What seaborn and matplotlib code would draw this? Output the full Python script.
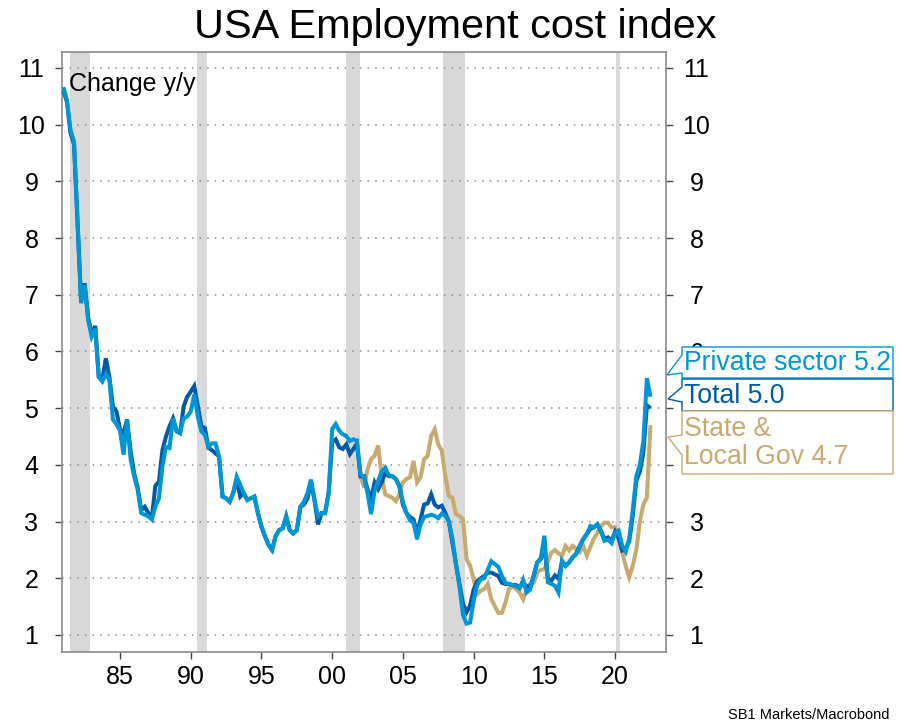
import matplotlib
matplotlib.use("Agg")
import numpy as np
import pandas as pd
import matplotlib.pyplot as plt
from matplotlib.patches import Polygon
import seaborn as sns

# Employment cost index, change y/y (%), quarterly
private_start = 1981.0
private_sector = [
    10.66, 10.43, 9.90, 9.70,   # 1981
    8.30, 6.85, 7.17, 6.55,     # 1982
    6.26, 6.40, 5.55, 5.47,     # 1983
    5.60, 5.50, 4.80, 4.72,     # 1984
    4.60, 4.18, 4.80, 4.10,     # 1985
    3.80, 3.56, 3.15, 3.12,     # 1986
    3.09, 3.04, 3.26, 3.41,     # 1987
    3.97, 4.32, 4.30, 4.82,     # 1988
    4.59, 4.56, 4.82, 4.85,     # 1989
    4.94, 5.24, 4.85, 4.59,     # 1990
    4.53, 4.32, 4.38, 4.38,     # 1991
    4.15, 3.44, 3.41, 3.35,     # 1992
    3.50, 3.79, 3.65, 3.50,     # 1993
    3.38, 3.41, 3.44, 3.15,     # 1994
    2.91, 2.74, 2.59, 2.50,     # 1995
    2.74, 2.85, 2.88, 3.09,     # 1996
    2.85, 2.79, 2.85, 3.26,     # 1997
    3.35, 3.50, 3.74, 3.38,     # 1998
    3.09, 3.15, 3.15, 3.50,     # 1999
    4.63, 4.72, 4.60, 4.54,     # 2000
    4.51, 4.42, 4.45, 4.42,     # 2001
    3.84, 3.78, 3.50, 3.13,     # 2002
    3.55, 3.72, 3.88, 3.95,     # 2003
    3.82, 3.80, 3.75, 3.62,     # 2004
    3.35, 3.15, 3.02, 2.98,     # 2005
    2.69, 2.95, 3.08, 3.10,     # 2006
    3.12, 3.10, 3.06, 3.14,     # 2007
    3.10, 3.00, 2.70, 2.25,     # 2008
    1.85, 1.35, 1.20, 1.22,     # 2009
    1.60, 1.88, 1.98, 2.00,     # 2010
    2.15, 2.30, 2.25, 2.20,     # 2011
    2.04, 1.92, 1.90, 1.88,     # 2012
    1.86, 1.82, 1.97, 1.75,     # 2013
    1.80, 2.05, 2.28, 2.36,     # 2014
    2.75, 1.93, 1.90, 1.87,     # 2015
    1.75, 2.31, 2.22, 2.28,     # 2016
    2.37, 2.43, 2.57, 2.69,     # 2017
    2.78, 2.92, 2.90, 2.95,     # 2018
    2.82, 2.66, 2.68, 2.62,     # 2019
    2.80, 2.84, 2.58, 2.47,     # 2020
    2.70, 3.20, 3.80, 4.00,     # 2021
    4.42, 5.53, 5.20,           # 2022
]

total = [
    10.60, 10.40, 9.85, 9.65,   # 1981
    8.25, 6.90, 7.20, 6.60,     # 1982
    6.30, 6.45, 5.55, 5.50,     # 1983
    5.88, 5.55, 5.03, 4.94,     # 1984
    4.63, 4.55, 4.80, 4.24,     # 1985
    3.85, 3.60, 3.20, 3.26,     # 1986
    3.15, 3.06, 3.63, 3.70,     # 1987
    4.26, 4.50, 4.68, 4.82,     # 1988
    4.60, 4.56, 5.03, 5.20,     # 1989
    5.29, 5.39, 5.03, 4.68,     # 1990
    4.65, 4.30, 4.26, 4.20,     # 1991
    4.15, 3.44, 3.41, 3.35,     # 1992
    3.50, 3.74, 3.44, 3.50,     # 1993
    3.38, 3.41, 3.44, 3.15,     # 1994
    2.91, 2.74, 2.59, 2.50,     # 1995
    2.74, 2.85, 2.88, 3.09,     # 1996
    2.85, 2.79, 2.85, 3.26,     # 1997
    3.30, 3.40, 3.70, 3.38,     # 1998
    2.95, 3.15, 3.15, 3.50,     # 1999
    4.40, 4.45, 4.31, 4.28,     # 2000
    4.36, 4.19, 4.28, 4.38,     # 2001
    3.80, 3.80, 3.57, 3.40,     # 2002
    3.69, 3.57, 3.69, 3.86,     # 2003
    3.80, 3.80, 3.75, 3.63,     # 2004
    3.30, 3.15, 3.08, 3.04,     # 2005
    2.80, 3.04, 3.30, 3.32,     # 2006
    3.48, 3.30, 3.25, 3.28,     # 2007
    3.15, 3.00, 2.62, 2.25,     # 2008
    1.90, 1.55, 1.40, 1.52,     # 2009
    1.80, 1.95, 2.00, 2.04,     # 2010
    2.10, 2.10, 2.07, 2.04,     # 2011
    1.92, 1.90, 1.90, 1.88,     # 2012
    1.88, 1.84, 1.92, 1.86,     # 2013
    1.85, 2.05, 2.28, 2.34,     # 2014
    2.57, 1.99, 1.96, 2.05,     # 2015
    1.99, 2.30, 2.22, 2.28,     # 2016
    2.37, 2.43, 2.57, 2.69,     # 2017
    2.78, 2.87, 2.90, 2.95,     # 2018
    2.84, 2.69, 2.72, 2.66,     # 2019
    2.82, 2.70, 2.49, 2.52,     # 2020
    2.65, 3.10, 3.72, 3.88,     # 2021
    4.22, 5.05, 5.00,           # 2022
]

state_local_start = 2002.0
state_local_gov = [
    3.81, 3.60, 3.92, 4.10,     # 2002
    4.16, 4.34, 3.80, 3.48,     # 2003
    3.45, 3.42, 3.36, 3.48,     # 2004
    3.69, 3.75, 3.78, 4.07,     # 2005
    3.69, 3.78, 4.10, 4.16,     # 2006
    4.51, 4.63, 4.36, 4.25,     # 2007
    3.80, 3.45, 3.42, 3.13,     # 2008
    3.10, 3.04, 2.34, 2.22,     # 2009
    1.98, 1.72, 1.78, 1.81,     # 2010
    1.90, 1.63, 1.51, 1.39,     # 2011
    1.39, 1.57, 1.81, 1.86,     # 2012
    1.81, 1.75, 1.63, 1.81,     # 2013
    1.90, 1.92, 2.10, 2.15,     # 2014
    2.16, 2.30, 2.45, 2.50,     # 2015
    2.44, 2.40, 2.57, 2.49,     # 2016
    2.57, 2.51, 2.46, 2.57,     # 2017
    2.40, 2.55, 2.70, 2.80,     # 2018
    2.92, 2.98, 2.98, 2.90,     # 2019
    2.90, 2.75, 2.46, 2.22,     # 2020
    2.02, 2.22, 2.50, 3.00,     # 2021
    3.30, 3.42, 4.70,           # 2022
]

# US recessions (shaded)
recessions = [(1981.47, 1982.9), (1990.47, 1991.17), (2001.0, 2001.95),
              (2007.85, 2009.42), (2020.08, 2020.32)]

x_ticks = [1985, 1990, 1995, 2000, 2005, 2010, 2015, 2020]
x_tick_labels = ["85", "90", "95", "00", "05", "10", "15", "20"]
y_ticks = list(range(1, 12))

series_names = ["State & Local Gov", "Total", "Private sector"]
series_colors = {"Private sector": "#0096d6",
                 "Total": "#005aa7",
                 "State & Local Gov": "#c8a96e"}

sns.set_style("white")
plt.rcParams["font.family"] = ["Liberation Sans", "DejaVu Sans"]
plt.rcParams["text.color"] = "black"
plt.rcParams["xtick.color"] = "black"
plt.rcParams["ytick.color"] = "black"
plt.rcParams["axes.labelcolor"] = "black"


def quarterly(values, start, name):
    dates = start + np.arange(len(values)) / 4.0
    return pd.DataFrame({"date": dates, "value": values, "series": name})


df = pd.concat([
    quarterly(private_sector, private_start, "Private sector"),
    quarterly(total, private_start, "Total"),
    quarterly(state_local_gov, state_local_start, "State & Local Gov"),
], ignore_index=True)

W, H = 902, 722
fig = plt.figure(figsize=(W / 100, H / 100), dpi=100)
ax = fig.add_axes([62 / W, 1 - 652 / H, 604 / W, 600 / H])

for a, b in recessions:
    ax.axvspan(a, b, color="#d9d9d9", lw=0, zorder=0)
for y in y_ticks:
    ax.axhline(y, color="#8a8a8a", lw=1.1, ls=(0, (1, 4)), zorder=1)

sns.lineplot(data=df, x="date", y="value", hue="series",
             hue_order=series_names, palette=series_colors,
             estimator=None, legend=False, ax=ax, lw=2.9,
             solid_joinstyle="miter", solid_capstyle="butt", zorder=3)

ax.set_xlim(1980.9, 2023.6)
ax.set_ylim(0.70, 11.28)
ax.set_xticks(x_ticks)
ax.set_xticklabels(x_tick_labels)
ax.set_yticks(y_ticks)
ax.set_xlabel("")
ax.set_ylabel("")

ax.tick_params(axis="y", left=True, right=True, labelleft=True, labelright=True,
               direction="out", length=5, width=1, color="#444444",
               labelcolor="black", labelsize=18, pad=17)
ax.tick_params(axis="x", bottom=True, direction="out", length=5, width=1,
               color="#444444", labelcolor="black", labelsize=18, pad=4)
for t in ax.yaxis.get_major_ticks():
    t.label1.set_horizontalalignment("center")
    t.label2.set_horizontalalignment("center")
for spine in ax.spines.values():
    spine.set_color("#8a8a8a")
    spine.set_linewidth(1.2)

ax.text(0.011, 0.967, "Change y/y", transform=ax.transAxes,
        ha="left", va="top", fontsize=18, color="black")

fig.text(455 / W, 1 - 38 / H, "USA Employment cost index",
         ha="center", va="baseline", fontsize=29.8, color="black")
fig.text(890 / W, 1 - 719 / H, "SB1 Markets/Macrobond",
         ha="right", va="baseline", fontsize=10.5, color="black")


def px(x, y):
    return (x / W, 1 - y / H)


# Callout labels at the end of each line
box_left, box_right = 682, 893
callouts = [
    (f"Private sector {private_sector[-1]:.1f}", series_colors["Private sector"],
     347, 378, (667, 375), 355, 373),
    (f"Total {total[-1]:.1f}", series_colors["Total"],
     379, 411, (668, 399), 387, 402),
    (f"State &\nLocal Gov {state_local_gov[-1]:.1f}", series_colors["State & Local Gov"],
     411, 474, (668, 437), 435, 455),
]
for text, color, top, bottom, tip, att_up, att_low in callouts:
    pts = [px(*tip), px(box_left, att_up), px(box_left, top), px(box_right, top),
           px(box_right, bottom), px(box_left, bottom), px(box_left, att_low)]
    poly = Polygon(pts, closed=True, transform=fig.transFigure,
                   facecolor="white", edgecolor=color, lw=1.0, zorder=5)
    fig.add_artist(poly)
    fig.text((box_left + 2) / W, 1 - ((top + bottom) / 2 + 1) / H, text,
             color=color, fontsize=19.2, ha="left", va="center",
             linespacing=1.1, zorder=6)

fig.savefig("out.png", dpi=100)
